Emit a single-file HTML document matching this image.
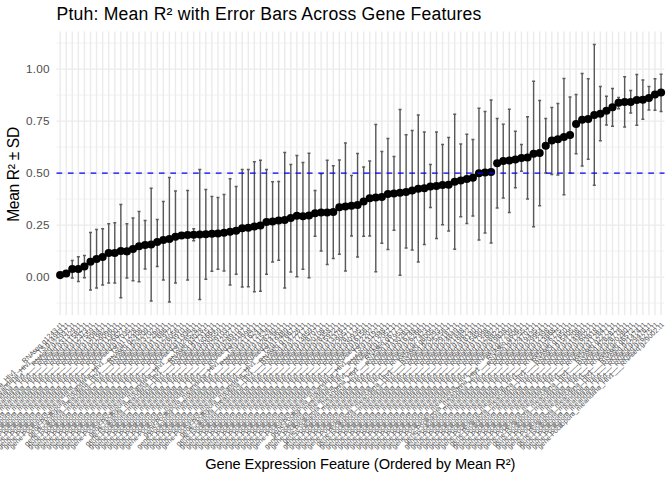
<!DOCTYPE html>
<html><head><meta charset="utf-8"><title>Ptuh: Mean R² with Error Bars</title>
<style>
html,body{margin:0;padding:0;background:#fff;}
body{width:672px;height:480px;overflow:hidden;font-family:"Liberation Sans",sans-serif;}
svg text{font-family:"Liberation Sans",sans-serif;}
</style></head><body>
<svg width="672" height="480" viewBox="0 0 672 480" style="display:block">
<rect width="672" height="480" fill="#fff"/>
<g><path d="M56.5 303.10H664.5" stroke="#ebebeb" stroke-width="0.71"/><path d="M56.5 251.10H664.5" stroke="#ebebeb" stroke-width="0.71"/><path d="M56.5 199.10H664.5" stroke="#ebebeb" stroke-width="0.71"/><path d="M56.5 147.10H664.5" stroke="#ebebeb" stroke-width="0.71"/><path d="M56.5 95.10H664.5" stroke="#ebebeb" stroke-width="0.71"/><path d="M56.5 43.10H664.5" stroke="#ebebeb" stroke-width="0.71"/><path d="M56.5 277.10H664.5" stroke="#ebebeb" stroke-width="1.42"/><path d="M56.5 225.10H664.5" stroke="#ebebeb" stroke-width="1.42"/><path d="M56.5 173.10H664.5" stroke="#ebebeb" stroke-width="1.42"/><path d="M56.5 121.10H664.5" stroke="#ebebeb" stroke-width="1.42"/><path d="M56.5 69.10H664.5" stroke="#ebebeb" stroke-width="1.42"/><path d="M60.14 31.5V315.2M66.21 31.5V315.2M72.28 31.5V315.2M78.35 31.5V315.2M84.42 31.5V315.2M90.49 31.5V315.2M96.56 31.5V315.2M102.63 31.5V315.2M108.70 31.5V315.2M114.77 31.5V315.2M120.84 31.5V315.2M126.91 31.5V315.2M132.98 31.5V315.2M139.05 31.5V315.2M145.12 31.5V315.2M151.19 31.5V315.2M157.26 31.5V315.2M163.33 31.5V315.2M169.40 31.5V315.2M175.47 31.5V315.2M181.54 31.5V315.2M187.61 31.5V315.2M193.68 31.5V315.2M199.75 31.5V315.2M205.82 31.5V315.2M211.89 31.5V315.2M217.96 31.5V315.2M224.03 31.5V315.2M230.10 31.5V315.2M236.17 31.5V315.2M242.24 31.5V315.2M248.31 31.5V315.2M254.38 31.5V315.2M260.45 31.5V315.2M266.52 31.5V315.2M272.59 31.5V315.2M278.66 31.5V315.2M284.73 31.5V315.2M290.80 31.5V315.2M296.87 31.5V315.2M302.94 31.5V315.2M309.01 31.5V315.2M315.08 31.5V315.2M321.15 31.5V315.2M327.22 31.5V315.2M333.29 31.5V315.2M339.36 31.5V315.2M345.43 31.5V315.2M351.50 31.5V315.2M357.57 31.5V315.2M363.64 31.5V315.2M369.71 31.5V315.2M375.78 31.5V315.2M381.85 31.5V315.2M387.92 31.5V315.2M393.99 31.5V315.2M400.06 31.5V315.2M406.13 31.5V315.2M412.20 31.5V315.2M418.27 31.5V315.2M424.34 31.5V315.2M430.41 31.5V315.2M436.48 31.5V315.2M442.55 31.5V315.2M448.62 31.5V315.2M454.69 31.5V315.2M460.76 31.5V315.2M466.83 31.5V315.2M472.90 31.5V315.2M478.97 31.5V315.2M485.04 31.5V315.2M491.11 31.5V315.2M497.18 31.5V315.2M503.25 31.5V315.2M509.32 31.5V315.2M515.39 31.5V315.2M521.46 31.5V315.2M527.53 31.5V315.2M533.60 31.5V315.2M539.67 31.5V315.2M545.74 31.5V315.2M551.81 31.5V315.2M557.88 31.5V315.2M563.95 31.5V315.2M570.02 31.5V315.2M576.09 31.5V315.2M582.16 31.5V315.2M588.23 31.5V315.2M594.30 31.5V315.2M600.37 31.5V315.2M606.44 31.5V315.2M612.51 31.5V315.2M618.58 31.5V315.2M624.65 31.5V315.2M630.72 31.5V315.2M636.79 31.5V315.2M642.86 31.5V315.2M648.93 31.5V315.2M655.00 31.5V315.2M661.07 31.5V315.2" stroke="#ebebeb" stroke-width="1.42" fill="none"/></g>
<path d="M70.78 260.50H73.78M70.78 278.00H73.78M72.28 260.50V278.00M76.85 256.75H79.85M76.85 281.50H79.85M78.35 256.75V281.50M82.92 255.50H85.92M82.92 277.75H85.92M84.42 255.50V277.75M88.99 232.50H91.99M88.99 290.00H91.99M90.49 232.50V290.00M95.06 229.50H98.06M95.06 288.00H98.06M96.56 229.50V288.00M101.13 228.75H104.13M101.13 285.00H104.13M102.63 228.75V285.00M107.20 223.75H110.20M107.20 283.00H110.20M108.70 223.75V283.00M113.27 222.75H116.27M113.27 283.00H116.27M114.77 222.75V283.00M119.34 204.50H122.34M119.34 297.75H122.34M120.84 204.50V297.75M125.41 223.75H128.41M125.41 278.00H128.41M126.91 223.75V278.00M131.48 218.00H134.48M131.48 280.75H134.48M132.98 218.00V280.75M137.55 211.50H140.55M137.55 281.75H140.55M139.05 211.50V281.75M143.62 220.50H146.62M143.62 269.00H146.62M145.12 220.50V269.00M149.69 188.25H152.69M149.69 301.00H152.69M151.19 188.25V301.00M155.76 219.50H158.76M155.76 266.50H158.76M157.26 219.50V266.50M161.83 201.50H164.83M161.83 280.00H164.83M163.33 201.50V280.00M167.90 177.50H170.90M167.90 302.00H170.90M169.40 177.50V302.00M173.97 191.00H176.97M173.97 283.00H176.97M175.47 191.00V283.00M186.11 190.50H189.11M186.11 280.00H189.11M187.61 190.50V280.00M192.18 228.75H195.18M192.18 240.75H195.18M193.68 228.75V240.75M198.25 169.50H201.25M198.25 299.50H201.25M199.75 169.50V299.50M204.32 189.50H207.32M204.32 279.25H207.32M205.82 189.50V279.25M210.39 196.50H213.39M210.39 271.25H213.39M211.89 196.50V271.25M216.46 197.50H219.46M216.46 269.25H219.46M217.96 197.50V269.25M222.53 194.50H225.53M222.53 271.00H225.53M224.03 194.50V271.00M228.60 178.75H231.60M228.60 285.00H231.60M230.10 178.75V285.00M234.67 186.50H237.67M234.67 274.25H237.67M236.17 186.50V274.25M240.74 169.50H243.74M240.74 287.00H243.74M242.24 169.50V287.00M246.81 169.50H249.81M246.81 286.75H249.81M248.31 169.50V286.75M252.88 161.75H255.88M252.88 291.75H255.88M254.38 161.75V291.75M258.95 160.25H261.95M258.95 291.25H261.95M260.45 160.25V291.25M265.02 169.50H268.02M265.02 274.25H268.02M266.52 169.50V274.25M271.09 181.75H274.09M271.09 262.00H274.09M272.59 181.75V262.00M277.16 181.50H280.16M277.16 260.25H280.16M278.66 181.50V260.25M283.23 152.50H286.23M283.23 288.00H286.23M284.73 152.50V288.00M289.30 164.50H292.30M289.30 272.00H292.30M290.80 164.50V272.00M295.37 155.50H298.37M295.37 276.75H298.37M296.87 155.50V276.75M301.44 162.50H304.44M301.44 269.25H304.44M302.94 162.50V269.25M307.51 153.25H310.51M307.51 277.75H310.51M309.01 153.25V277.75M313.58 190.50H316.58M313.58 236.25H316.58M315.08 190.50V236.25M319.65 173.75H322.65M319.65 251.00H322.65M321.15 173.75V251.00M325.72 160.25H328.72M325.72 264.50H328.72M327.22 160.25V264.50M331.79 165.75H334.79M331.79 258.50H334.79M333.29 165.75V258.50M337.86 160.00H340.86M337.86 254.25H340.86M339.36 160.00V254.25M343.93 143.00H346.93M343.93 271.00H346.93M345.43 143.00V271.00M350.00 175.50H353.00M350.00 236.00H353.00M351.50 175.50V236.00M356.07 153.50H359.07M356.07 257.00H359.07M357.57 153.50V257.00M362.14 167.00H365.14M362.14 236.25H365.14M363.64 167.00V236.25M368.21 161.00H371.21M368.21 236.00H371.21M369.71 161.00V236.00M374.28 124.50H377.28M374.28 271.75H377.28M375.78 124.50V271.75M380.35 151.50H383.35M380.35 243.25H383.35M381.85 151.50V243.25M386.42 138.50H389.42M386.42 249.50H389.42M387.92 138.50V249.50M392.49 156.50H395.49M392.49 230.25H395.49M393.99 156.50V230.25M398.56 109.50H401.56M398.56 275.25H401.56M400.06 109.50V275.25M404.63 134.75H407.63M404.63 248.00H407.63M406.13 134.75V248.00M410.70 130.50H413.70M410.70 250.00H413.70M412.20 130.50V250.00M416.77 115.00H419.77M416.77 262.00H419.77M418.27 115.00V262.00M422.84 132.00H425.84M422.84 244.50H425.84M424.34 132.00V244.50M428.91 164.50H431.91M428.91 207.50H431.91M430.41 164.50V207.50M434.98 132.00H437.98M434.98 238.50H437.98M436.48 132.00V238.50M441.05 144.50H444.05M441.05 224.75H444.05M442.55 144.50V224.75M447.12 137.50H450.12M447.12 231.00H450.12M448.62 137.50V231.00M453.19 114.25H456.19M453.19 249.25H456.19M454.69 114.25V249.25M459.26 144.00H462.26M459.26 216.75H462.26M460.76 144.00V216.75M465.33 134.25H468.33M465.33 223.50H468.33M466.83 134.25V223.50M471.40 139.50H474.40M471.40 216.00H474.40M472.90 139.50V216.00M477.47 108.25H480.47M477.47 240.00H480.47M478.97 108.25V240.00M483.54 111.50H486.54M483.54 233.00H486.54M485.04 111.50V233.00M489.61 100.00H492.61M489.61 243.00H492.61M491.11 100.00V243.00M495.68 118.50H498.68M495.68 208.00H498.68M497.18 118.50V208.00M501.75 124.25H504.75M501.75 198.00H504.75M503.25 124.25V198.00M507.82 109.25H510.82M507.82 212.50H510.82M509.32 109.25V212.50M513.89 131.25H516.89M513.89 187.75H516.89M515.39 131.25V187.75M519.96 144.50H522.96M519.96 171.25H522.96M521.46 144.50V171.25M526.03 116.75H529.03M526.03 199.00H529.03M527.53 116.75V199.00M532.10 81.25H535.10M532.10 226.75H535.10M533.60 81.25V226.75M538.17 100.50H541.17M538.17 205.75H541.17M539.67 100.50V205.75M544.24 118.50H547.24M544.24 173.00H547.24M545.74 118.50V173.00M550.31 107.50H553.31M550.31 174.50H553.31M551.81 107.50V174.50M556.38 103.50H559.38M556.38 175.00H559.38M557.88 103.50V175.00M562.45 78.50H565.45M562.45 194.75H565.45M563.95 78.50V194.75M568.52 97.00H571.52M568.52 173.00H571.52M570.02 97.00V173.00M574.59 94.50H577.59M574.59 153.75H577.59M576.09 94.50V153.75M580.66 73.50H583.66M580.66 166.00H583.66M582.16 73.50V166.00M586.73 78.75H589.73M586.73 159.25H589.73M588.23 78.75V159.25M592.80 44.50H595.80M592.80 185.25H595.80M594.30 44.50V185.25M598.87 86.50H601.87M598.87 140.75H601.87M600.37 86.50V140.75M604.94 96.25H607.94M604.94 125.00H607.94M606.44 96.25V125.00M611.01 88.50H614.01M611.01 126.25H614.01M612.51 88.50V126.25M617.08 97.50H620.08M617.08 108.75H620.08M618.58 97.50V108.75M623.15 76.75H626.15M623.15 127.00H626.15M624.65 76.75V127.00M629.22 90.50H632.22M629.22 113.00H632.22M630.72 90.50V113.00M635.29 74.50H638.29M635.29 125.25H638.29M636.79 74.50V125.25M641.36 80.00H644.36M641.36 119.25H644.36M642.86 80.00V119.25M647.43 86.50H650.43M647.43 110.00H650.43M648.93 86.50V110.00M653.50 78.75H656.50M653.50 110.25H656.50M655.00 78.75V110.25M659.57 74.25H662.57M659.57 111.50H662.57M661.07 74.25V111.50" stroke="#000" stroke-opacity="0.62" stroke-width="1.42" fill="none"/>
<g fill="#000"><circle cx="60.14" cy="275.10" r="4.05"/><circle cx="66.21" cy="273.50" r="4.05"/><circle cx="72.28" cy="269.00" r="4.05"/><circle cx="78.35" cy="269.00" r="4.05"/><circle cx="84.42" cy="266.50" r="4.05"/><circle cx="90.49" cy="261.75" r="4.05"/><circle cx="96.56" cy="259.00" r="4.05"/><circle cx="102.63" cy="257.00" r="4.05"/><circle cx="108.70" cy="253.00" r="4.05"/><circle cx="114.77" cy="253.00" r="4.05"/><circle cx="120.84" cy="251.00" r="4.05"/><circle cx="126.91" cy="251.40" r="4.05"/><circle cx="132.98" cy="249.00" r="4.05"/><circle cx="139.05" cy="246.25" r="4.05"/><circle cx="145.12" cy="245.00" r="4.05"/><circle cx="151.19" cy="244.50" r="4.05"/><circle cx="157.26" cy="242.00" r="4.05"/><circle cx="163.33" cy="240.00" r="4.05"/><circle cx="169.40" cy="239.00" r="4.05"/><circle cx="175.47" cy="236.75" r="4.05"/><circle cx="181.54" cy="235.50" r="4.05"/><circle cx="187.61" cy="235.00" r="4.05"/><circle cx="193.68" cy="234.75" r="4.05"/><circle cx="199.75" cy="234.50" r="4.05"/><circle cx="205.82" cy="234.25" r="4.05"/><circle cx="211.89" cy="233.75" r="4.05"/><circle cx="217.96" cy="233.50" r="4.05"/><circle cx="224.03" cy="232.75" r="4.05"/><circle cx="230.10" cy="231.75" r="4.05"/><circle cx="236.17" cy="230.75" r="4.05"/><circle cx="242.24" cy="228.25" r="4.05"/><circle cx="248.31" cy="227.75" r="4.05"/><circle cx="254.38" cy="226.50" r="4.05"/><circle cx="260.45" cy="225.50" r="4.05"/><circle cx="266.52" cy="222.00" r="4.05"/><circle cx="272.59" cy="221.50" r="4.05"/><circle cx="278.66" cy="220.50" r="4.05"/><circle cx="284.73" cy="220.00" r="4.05"/><circle cx="290.80" cy="218.00" r="4.05"/><circle cx="296.87" cy="215.75" r="4.05"/><circle cx="302.94" cy="216.25" r="4.05"/><circle cx="309.01" cy="215.50" r="4.05"/><circle cx="315.08" cy="213.25" r="4.05"/><circle cx="321.15" cy="212.50" r="4.05"/><circle cx="327.22" cy="212.50" r="4.05"/><circle cx="333.29" cy="212.00" r="4.05"/><circle cx="339.36" cy="207.25" r="4.05"/><circle cx="345.43" cy="206.50" r="4.05"/><circle cx="351.50" cy="205.75" r="4.05"/><circle cx="357.57" cy="205.00" r="4.05"/><circle cx="363.64" cy="201.50" r="4.05"/><circle cx="369.71" cy="198.25" r="4.05"/><circle cx="375.78" cy="197.50" r="4.05"/><circle cx="381.85" cy="197.00" r="4.05"/><circle cx="387.92" cy="194.00" r="4.05"/><circle cx="393.99" cy="193.50" r="4.05"/><circle cx="400.06" cy="192.75" r="4.05"/><circle cx="406.13" cy="192.00" r="4.05"/><circle cx="412.20" cy="190.50" r="4.05"/><circle cx="418.27" cy="188.75" r="4.05"/><circle cx="424.34" cy="188.25" r="4.05"/><circle cx="430.41" cy="186.50" r="4.05"/><circle cx="436.48" cy="186.00" r="4.05"/><circle cx="442.55" cy="185.00" r="4.05"/><circle cx="448.62" cy="184.75" r="4.05"/><circle cx="454.69" cy="181.75" r="4.05"/><circle cx="460.76" cy="180.50" r="4.05"/><circle cx="466.83" cy="179.00" r="4.05"/><circle cx="472.90" cy="177.75" r="4.05"/><circle cx="478.97" cy="173.25" r="4.05"/><circle cx="485.04" cy="172.50" r="4.05"/><circle cx="491.11" cy="172.00" r="4.05"/><circle cx="497.18" cy="163.25" r="4.05"/><circle cx="503.25" cy="161.00" r="4.05"/><circle cx="509.32" cy="160.50" r="4.05"/><circle cx="515.39" cy="159.50" r="4.05"/><circle cx="521.46" cy="158.00" r="4.05"/><circle cx="527.53" cy="157.50" r="4.05"/><circle cx="533.60" cy="153.75" r="4.05"/><circle cx="539.67" cy="153.00" r="4.05"/><circle cx="545.74" cy="145.75" r="4.05"/><circle cx="551.81" cy="140.50" r="4.05"/><circle cx="557.88" cy="139.25" r="4.05"/><circle cx="563.95" cy="137.00" r="4.05"/><circle cx="570.02" cy="135.00" r="4.05"/><circle cx="576.09" cy="124.00" r="4.05"/><circle cx="582.16" cy="119.75" r="4.05"/><circle cx="588.23" cy="119.00" r="4.05"/><circle cx="594.30" cy="115.00" r="4.05"/><circle cx="600.37" cy="113.75" r="4.05"/><circle cx="606.44" cy="110.75" r="4.05"/><circle cx="612.51" cy="107.25" r="4.05"/><circle cx="618.58" cy="102.75" r="4.05"/><circle cx="624.65" cy="102.00" r="4.05"/><circle cx="630.72" cy="102.00" r="4.05"/><circle cx="636.79" cy="100.00" r="4.05"/><circle cx="642.86" cy="99.75" r="4.05"/><circle cx="648.93" cy="98.00" r="4.05"/><circle cx="655.00" cy="94.50" r="4.05"/><circle cx="661.07" cy="92.50" r="4.05"/></g>
<path d="M56.5 173.10H664.5" stroke="#0000ff" stroke-width="1.42" stroke-dasharray="5.69 5.69" fill="none"/>
<text x="49.6" y="281.00" text-anchor="end" font-size="11.73" letter-spacing="0.2" fill="#4d4d4d">0.00</text>
<text x="49.6" y="229.00" text-anchor="end" font-size="11.73" letter-spacing="0.2" fill="#4d4d4d">0.25</text>
<text x="49.6" y="177.00" text-anchor="end" font-size="11.73" letter-spacing="0.2" fill="#4d4d4d">0.50</text>
<text x="49.6" y="125.00" text-anchor="end" font-size="11.73" letter-spacing="0.2" fill="#4d4d4d">0.75</text>
<text x="49.6" y="73.00" text-anchor="end" font-size="11.73" letter-spacing="0.2" fill="#4d4d4d">1.00</text>
<text x="56.5" y="20.1" font-size="17.6" letter-spacing="0.21" fill="#000">Ptuh: Mean R² with Error Bars Across Gene Features</text>
<text x="360.2" y="468.9" text-anchor="middle" font-size="14.67" letter-spacing="-0.1" fill="#000">Gene Expression Feature (Ordered by Mean R²)</text>
<text transform="translate(18.5 174.5) rotate(-90)" text-anchor="middle" font-size="15.6" letter-spacing="-0.33" fill="#000">Mean R² ± SD</text>
<g font-size="7" fill="#4d4d4d"><text transform="translate(60.14 321.3) rotate(-45)" x="-172 -168 -164 -160 -156 -154 -150 -146 -143 -142 -141 -140 -136 -132 -128 -126 -122 -118 -112 -108 -104 -100 -96 -94 -93 -89 -85 -81 -76 -74 -71 -67 -63 -59 -55 -50 -45 -41 -38 -34 -30 -28 -24 -20 -16 -12 -8 -6 -4" y="5.1">gene-Pocillopora_meandrina_HIv1___RNAseq.g1243.t1</text><text transform="translate(66.21 321.3) rotate(-45)" x="-159 -155 -151 -147 -143 -141 -137 -133 -130 -129 -128 -127 -123 -119 -115 -113 -109 -105 -99 -95 -91 -87 -83 -81 -80 -76 -72 -68 -63 -61 -58 -54 -50 -46 -42 -38 -34 -32 -28 -24 -20 -16 -12 -8 -6 -4" y="5.1">gene-Pocillopora_meandrina_HIv1___TS.g14943.t1</text><text transform="translate(72.28 321.3) rotate(-45)" x="-176 -172 -168 -164 -160 -158 -154 -150 -147 -146 -145 -144 -140 -136 -132 -130 -126 -122 -116 -112 -108 -104 -100 -98 -97 -93 -89 -85 -80 -78 -75 -71 -67 -63 -59 -54 -49 -45 -42 -38 -34 -32 -28 -24 -20 -16 -12 -8 -6 -4" y="5.1">gene-Pocillopora_meandrina_HIv1___RNAseq.g22937.t1</text><text transform="translate(78.35 321.3) rotate(-45)" x="-176 -172 -168 -164 -160 -158 -154 -150 -147 -146 -145 -144 -140 -136 -132 -130 -126 -122 -116 -112 -108 -104 -100 -98 -97 -93 -89 -85 -80 -78 -75 -71 -67 -63 -59 -54 -49 -45 -42 -38 -34 -32 -28 -24 -20 -16 -12 -8 -6 -4" y="5.1">gene-Pocillopora_meandrina_HIv1___RNAseq.g31329.t1</text><text transform="translate(84.42 321.3) rotate(-45)" x="-176 -172 -168 -164 -160 -158 -154 -150 -147 -146 -145 -144 -140 -136 -132 -130 -126 -122 -116 -112 -108 -104 -100 -98 -97 -93 -89 -85 -80 -78 -75 -71 -67 -63 -59 -54 -49 -45 -42 -38 -34 -32 -28 -24 -20 -16 -12 -8 -6 -4" y="5.1">gene-Pocillopora_meandrina_HIv1___RNAseq.g11582.t1</text><text transform="translate(90.49 321.3) rotate(-45)" x="-176 -172 -168 -164 -160 -158 -154 -150 -147 -146 -145 -144 -140 -136 -132 -130 -126 -122 -116 -112 -108 -104 -100 -98 -97 -93 -89 -85 -80 -78 -75 -71 -67 -63 -59 -54 -49 -45 -42 -38 -34 -32 -28 -24 -20 -16 -12 -8 -6 -4" y="5.1">gene-Pocillopora_meandrina_HIv1___RNAseq.g12373.t1</text><text transform="translate(96.56 321.3) rotate(-45)" x="-176 -172 -168 -164 -160 -158 -154 -150 -147 -146 -145 -144 -140 -136 -132 -130 -126 -122 -116 -112 -108 -104 -100 -98 -97 -93 -89 -85 -80 -78 -75 -71 -67 -63 -59 -54 -49 -45 -42 -38 -34 -32 -28 -24 -20 -16 -12 -8 -6 -4" y="5.1">gene-Pocillopora_meandrina_HIv1___RNAseq.g27559.t1</text><text transform="translate(102.63 321.3) rotate(-45)" x="-176 -172 -168 -164 -160 -158 -154 -150 -147 -146 -145 -144 -140 -136 -132 -130 -126 -122 -116 -112 -108 -104 -100 -98 -97 -93 -89 -85 -80 -78 -75 -71 -67 -63 -59 -54 -49 -45 -42 -38 -34 -32 -28 -24 -20 -16 -12 -8 -6 -4" y="5.1">gene-Pocillopora_meandrina_HIv1___RNAseq.g13084.t1</text><text transform="translate(108.70 321.3) rotate(-45)" x="-176 -172 -168 -164 -160 -158 -154 -150 -147 -146 -145 -144 -140 -136 -132 -130 -126 -122 -116 -112 -108 -104 -100 -98 -97 -93 -89 -85 -80 -78 -75 -71 -67 -63 -59 -54 -49 -45 -42 -38 -34 -32 -28 -24 -20 -16 -12 -8 -6 -4" y="5.1">gene-Pocillopora_meandrina_HIv1___RNAseq.g21982.t1</text><text transform="translate(114.77 321.3) rotate(-45)" x="-176 -172 -168 -164 -160 -158 -154 -150 -147 -146 -145 -144 -140 -136 -132 -130 -126 -122 -116 -112 -108 -104 -100 -98 -97 -93 -89 -85 -80 -78 -75 -71 -67 -63 -59 -54 -49 -45 -42 -38 -34 -32 -28 -24 -20 -16 -12 -8 -6 -4" y="5.1">gene-Pocillopora_meandrina_HIv1___RNAseq.g29096.t1</text><text transform="translate(120.84 321.3) rotate(-45)" x="-176 -172 -168 -164 -160 -158 -154 -150 -147 -146 -145 -144 -140 -136 -132 -130 -126 -122 -116 -112 -108 -104 -100 -98 -97 -93 -89 -85 -80 -78 -75 -71 -67 -63 -59 -54 -49 -45 -42 -38 -34 -32 -28 -24 -20 -16 -12 -8 -6 -4" y="5.1">gene-Pocillopora_meandrina_HIv1___RNAseq.g11900.t1</text><text transform="translate(126.91 321.3) rotate(-45)" x="-176 -172 -168 -164 -160 -158 -154 -150 -147 -146 -145 -144 -140 -136 -132 -130 -126 -122 -116 -112 -108 -104 -100 -98 -97 -93 -89 -85 -80 -78 -75 -71 -67 -63 -59 -54 -49 -45 -42 -38 -34 -32 -28 -24 -20 -16 -12 -8 -6 -4" y="5.1">gene-Pocillopora_meandrina_HIv1___RNAseq.g26627.t1</text><text transform="translate(132.98 321.3) rotate(-45)" x="-176 -172 -168 -164 -160 -158 -154 -150 -147 -146 -145 -144 -140 -136 -132 -130 -126 -122 -116 -112 -108 -104 -100 -98 -97 -93 -89 -85 -80 -78 -75 -71 -67 -63 -59 -54 -49 -45 -42 -38 -34 -32 -28 -24 -20 -16 -12 -8 -6 -4" y="5.1">gene-Pocillopora_meandrina_HIv1___RNAseq.g17035.t1</text><text transform="translate(139.05 321.3) rotate(-45)" x="-159 -155 -151 -147 -143 -141 -137 -133 -130 -129 -128 -127 -123 -119 -115 -113 -109 -105 -99 -95 -91 -87 -83 -81 -80 -76 -72 -68 -63 -61 -58 -54 -50 -46 -42 -38 -34 -32 -28 -24 -20 -16 -12 -8 -6 -4" y="5.1">gene-Pocillopora_meandrina_HIv1___TS.g11228.t1</text><text transform="translate(145.12 321.3) rotate(-45)" x="-172 -168 -164 -160 -156 -154 -150 -146 -143 -142 -141 -140 -136 -132 -128 -126 -122 -118 -112 -108 -104 -100 -96 -94 -93 -89 -85 -81 -76 -74 -71 -67 -63 -59 -55 -50 -45 -41 -38 -34 -30 -28 -24 -20 -16 -12 -8 -6 -4" y="5.1">gene-Pocillopora_meandrina_HIv1___RNAseq.g2408.t1</text><text transform="translate(151.19 321.3) rotate(-45)" x="-176 -172 -168 -164 -160 -158 -154 -150 -147 -146 -145 -144 -140 -136 -132 -130 -126 -122 -116 -112 -108 -104 -100 -98 -97 -93 -89 -85 -80 -78 -75 -71 -67 -63 -59 -54 -49 -45 -42 -38 -34 -32 -28 -24 -20 -16 -12 -8 -6 -4" y="5.1">gene-Pocillopora_meandrina_HIv1___RNAseq.g24209.t1</text><text transform="translate(157.26 321.3) rotate(-45)" x="-176 -172 -168 -164 -160 -158 -154 -150 -147 -146 -145 -144 -140 -136 -132 -130 -126 -122 -116 -112 -108 -104 -100 -98 -97 -93 -89 -85 -80 -78 -75 -71 -67 -63 -59 -54 -49 -45 -42 -38 -34 -32 -28 -24 -20 -16 -12 -8 -6 -4" y="5.1">gene-Pocillopora_meandrina_HIv1___RNAseq.g23702.t1</text><text transform="translate(163.33 321.3) rotate(-45)" x="-176 -172 -168 -164 -160 -158 -154 -150 -147 -146 -145 -144 -140 -136 -132 -130 -126 -122 -116 -112 -108 -104 -100 -98 -97 -93 -89 -85 -80 -78 -75 -71 -67 -63 -59 -54 -49 -45 -42 -38 -34 -32 -28 -24 -20 -16 -12 -8 -6 -4" y="5.1">gene-Pocillopora_meandrina_HIv1___RNAseq.g12289.t1</text><text transform="translate(169.40 321.3) rotate(-45)" x="-176 -172 -168 -164 -160 -158 -154 -150 -147 -146 -145 -144 -140 -136 -132 -130 -126 -122 -116 -112 -108 -104 -100 -98 -97 -93 -89 -85 -80 -78 -75 -71 -67 -63 -59 -54 -49 -45 -42 -38 -34 -32 -28 -24 -20 -16 -12 -8 -6 -4" y="5.1">gene-Pocillopora_meandrina_HIv1___RNAseq.g17886.t1</text><text transform="translate(175.47 321.3) rotate(-45)" x="-176 -172 -168 -164 -160 -158 -154 -150 -147 -146 -145 -144 -140 -136 -132 -130 -126 -122 -116 -112 -108 -104 -100 -98 -97 -93 -89 -85 -80 -78 -75 -71 -67 -63 -59 -54 -49 -45 -42 -38 -34 -32 -28 -24 -20 -16 -12 -8 -6 -4" y="5.1">gene-Pocillopora_meandrina_HIv1___RNAseq.g12972.t1</text><text transform="translate(181.54 321.3) rotate(-45)" x="-176 -172 -168 -164 -160 -158 -154 -150 -147 -146 -145 -144 -140 -136 -132 -130 -126 -122 -116 -112 -108 -104 -100 -98 -97 -93 -89 -85 -80 -78 -75 -71 -67 -63 -59 -54 -49 -45 -42 -38 -34 -32 -28 -24 -20 -16 -12 -8 -6 -4" y="5.1">gene-Pocillopora_meandrina_HIv1___RNAseq.g28056.t1</text><text transform="translate(187.61 321.3) rotate(-45)" x="-176 -172 -168 -164 -160 -158 -154 -150 -147 -146 -145 -144 -140 -136 -132 -130 -126 -122 -116 -112 -108 -104 -100 -98 -97 -93 -89 -85 -80 -78 -75 -71 -67 -63 -59 -54 -49 -45 -42 -38 -34 -32 -28 -24 -20 -16 -12 -8 -6 -4" y="5.1">gene-Pocillopora_meandrina_HIv1___RNAseq.g23910.t1</text><text transform="translate(193.68 321.3) rotate(-45)" x="-176 -172 -168 -164 -160 -158 -154 -150 -147 -146 -145 -144 -140 -136 -132 -130 -126 -122 -116 -112 -108 -104 -100 -98 -97 -93 -89 -85 -80 -78 -75 -71 -67 -63 -59 -54 -49 -45 -42 -38 -34 -32 -28 -24 -20 -16 -12 -8 -6 -4" y="5.1">gene-Pocillopora_meandrina_HIv1___RNAseq.g11936.t1</text><text transform="translate(199.75 321.3) rotate(-45)" x="-159 -155 -151 -147 -143 -141 -137 -133 -130 -129 -128 -127 -123 -119 -115 -113 -109 -105 -99 -95 -91 -87 -83 -81 -80 -76 -72 -68 -63 -61 -58 -54 -50 -46 -42 -38 -34 -32 -28 -24 -20 -16 -12 -8 -6 -4" y="5.1">gene-Pocillopora_meandrina_HIv1___TS.g28528.t1</text><text transform="translate(205.82 321.3) rotate(-45)" x="-172 -168 -164 -160 -156 -154 -150 -146 -143 -142 -141 -140 -136 -132 -128 -126 -122 -118 -112 -108 -104 -100 -96 -94 -93 -89 -85 -81 -76 -74 -71 -67 -63 -59 -55 -50 -45 -41 -38 -34 -30 -28 -24 -20 -16 -12 -8 -6 -4" y="5.1">gene-Pocillopora_meandrina_HIv1___RNAseq.g3028.t1</text><text transform="translate(211.89 321.3) rotate(-45)" x="-176 -172 -168 -164 -160 -158 -154 -150 -147 -146 -145 -144 -140 -136 -132 -130 -126 -122 -116 -112 -108 -104 -100 -98 -97 -93 -89 -85 -80 -78 -75 -71 -67 -63 -59 -54 -49 -45 -42 -38 -34 -32 -28 -24 -20 -16 -12 -8 -6 -4" y="5.1">gene-Pocillopora_meandrina_HIv1___RNAseq.g17315.t1</text><text transform="translate(217.96 321.3) rotate(-45)" x="-176 -172 -168 -164 -160 -158 -154 -150 -147 -146 -145 -144 -140 -136 -132 -130 -126 -122 -116 -112 -108 -104 -100 -98 -97 -93 -89 -85 -80 -78 -75 -71 -67 -63 -59 -54 -49 -45 -42 -38 -34 -32 -28 -24 -20 -16 -12 -8 -6 -4" y="5.1">gene-Pocillopora_meandrina_HIv1___RNAseq.g30664.t1</text><text transform="translate(224.03 321.3) rotate(-45)" x="-176 -172 -168 -164 -160 -158 -154 -150 -147 -146 -145 -144 -140 -136 -132 -130 -126 -122 -116 -112 -108 -104 -100 -98 -97 -93 -89 -85 -80 -78 -75 -71 -67 -63 -59 -54 -49 -45 -42 -38 -34 -32 -28 -24 -20 -16 -12 -8 -6 -4" y="5.1">gene-Pocillopora_meandrina_HIv1___RNAseq.g30559.t1</text><text transform="translate(230.10 321.3) rotate(-45)" x="-176 -172 -168 -164 -160 -158 -154 -150 -147 -146 -145 -144 -140 -136 -132 -130 -126 -122 -116 -112 -108 -104 -100 -98 -97 -93 -89 -85 -80 -78 -75 -71 -67 -63 -59 -54 -49 -45 -42 -38 -34 -32 -28 -24 -20 -16 -12 -8 -6 -4" y="5.1">gene-Pocillopora_meandrina_HIv1___RNAseq.g29103.t1</text><text transform="translate(236.17 321.3) rotate(-45)" x="-176 -172 -168 -164 -160 -158 -154 -150 -147 -146 -145 -144 -140 -136 -132 -130 -126 -122 -116 -112 -108 -104 -100 -98 -97 -93 -89 -85 -80 -78 -75 -71 -67 -63 -59 -54 -49 -45 -42 -38 -34 -32 -28 -24 -20 -16 -12 -8 -6 -4" y="5.1">gene-Pocillopora_meandrina_HIv1___RNAseq.g12027.t1</text><text transform="translate(242.24 321.3) rotate(-45)" x="-176 -172 -168 -164 -160 -158 -154 -150 -147 -146 -145 -144 -140 -136 -132 -130 -126 -122 -116 -112 -108 -104 -100 -98 -97 -93 -89 -85 -80 -78 -75 -71 -67 -63 -59 -54 -49 -45 -42 -38 -34 -32 -28 -24 -20 -16 -12 -8 -6 -4" y="5.1">gene-Pocillopora_meandrina_HIv1___RNAseq.g28910.t1</text><text transform="translate(248.31 321.3) rotate(-45)" x="-176 -172 -168 -164 -160 -158 -154 -150 -147 -146 -145 -144 -140 -136 -132 -130 -126 -122 -116 -112 -108 -104 -100 -98 -97 -93 -89 -85 -80 -78 -75 -71 -67 -63 -59 -54 -49 -45 -42 -38 -34 -32 -28 -24 -20 -16 -12 -8 -6 -4" y="5.1">gene-Pocillopora_meandrina_HIv1___RNAseq.g29187.t1</text><text transform="translate(254.38 321.3) rotate(-45)" x="-159 -155 -151 -147 -143 -141 -137 -133 -130 -129 -128 -127 -123 -119 -115 -113 -109 -105 -99 -95 -91 -87 -83 -81 -80 -76 -72 -68 -63 -61 -58 -54 -50 -46 -42 -38 -34 -32 -28 -24 -20 -16 -12 -8 -6 -4" y="5.1">gene-Pocillopora_meandrina_HIv1___TS.g22998.t1</text><text transform="translate(260.45 321.3) rotate(-45)" x="-176 -172 -168 -164 -160 -158 -154 -150 -147 -146 -145 -144 -140 -136 -132 -130 -126 -122 -116 -112 -108 -104 -100 -98 -97 -93 -89 -85 -80 -78 -75 -71 -67 -63 -59 -54 -49 -45 -42 -38 -34 -32 -28 -24 -20 -16 -12 -8 -6 -4" y="5.1">gene-Pocillopora_meandrina_HIv1___RNAseq.g11624.t1</text><text transform="translate(266.52 321.3) rotate(-45)" x="-176 -172 -168 -164 -160 -158 -154 -150 -147 -146 -145 -144 -140 -136 -132 -130 -126 -122 -116 -112 -108 -104 -100 -98 -97 -93 -89 -85 -80 -78 -75 -71 -67 -63 -59 -54 -49 -45 -42 -38 -34 -32 -28 -24 -20 -16 -12 -8 -6 -4" y="5.1">gene-Pocillopora_meandrina_HIv1___RNAseq.g17244.t1</text><text transform="translate(272.59 321.3) rotate(-45)" x="-176 -172 -168 -164 -160 -158 -154 -150 -147 -146 -145 -144 -140 -136 -132 -130 -126 -122 -116 -112 -108 -104 -100 -98 -97 -93 -89 -85 -80 -78 -75 -71 -67 -63 -59 -54 -49 -45 -42 -38 -34 -32 -28 -24 -20 -16 -12 -8 -6 -4" y="5.1">gene-Pocillopora_meandrina_HIv1___RNAseq.g11526.t1</text><text transform="translate(278.66 321.3) rotate(-45)" x="-176 -172 -168 -164 -160 -158 -154 -150 -147 -146 -145 -144 -140 -136 -132 -130 -126 -122 -116 -112 -108 -104 -100 -98 -97 -93 -89 -85 -80 -78 -75 -71 -67 -63 -59 -54 -49 -45 -42 -38 -34 -32 -28 -24 -20 -16 -12 -8 -6 -4" y="5.1">gene-Pocillopora_meandrina_HIv1___RNAseq.g28240.t1</text><text transform="translate(284.73 321.3) rotate(-45)" x="-176 -172 -168 -164 -160 -158 -154 -150 -147 -146 -145 -144 -140 -136 -132 -130 -126 -122 -116 -112 -108 -104 -100 -98 -97 -93 -89 -85 -80 -78 -75 -71 -67 -63 -59 -54 -49 -45 -42 -38 -34 -32 -28 -24 -20 -16 -12 -8 -6 -4" y="5.1">gene-Pocillopora_meandrina_HIv1___RNAseq.g14363.t1</text><text transform="translate(290.80 321.3) rotate(-45)" x="-159 -155 -151 -147 -143 -141 -137 -133 -130 -129 -128 -127 -123 -119 -115 -113 -109 -105 -99 -95 -91 -87 -83 -81 -80 -76 -72 -68 -63 -61 -58 -54 -50 -46 -42 -38 -34 -32 -28 -24 -20 -16 -12 -8 -6 -4" y="5.1">gene-Pocillopora_meandrina_HIv1___TS.g19489.t1</text><text transform="translate(296.87 321.3) rotate(-45)" x="-172 -168 -164 -160 -156 -154 -150 -146 -143 -142 -141 -140 -136 -132 -128 -126 -122 -118 -112 -108 -104 -100 -96 -94 -93 -89 -85 -81 -76 -74 -71 -67 -63 -59 -55 -50 -45 -41 -38 -34 -30 -28 -24 -20 -16 -12 -8 -6 -4" y="5.1">gene-Pocillopora_meandrina_HIv1___RNAseq.g7867.t1</text><text transform="translate(302.94 321.3) rotate(-45)" x="-176 -172 -168 -164 -160 -158 -154 -150 -147 -146 -145 -144 -140 -136 -132 -130 -126 -122 -116 -112 -108 -104 -100 -98 -97 -93 -89 -85 -80 -78 -75 -71 -67 -63 -59 -54 -49 -45 -42 -38 -34 -32 -28 -24 -20 -16 -12 -8 -6 -4" y="5.1">gene-Pocillopora_meandrina_HIv1___RNAseq.g14726.t1</text><text transform="translate(309.01 321.3) rotate(-45)" x="-176 -172 -168 -164 -160 -158 -154 -150 -147 -146 -145 -144 -140 -136 -132 -130 -126 -122 -116 -112 -108 -104 -100 -98 -97 -93 -89 -85 -80 -78 -75 -71 -67 -63 -59 -54 -49 -45 -42 -38 -34 -32 -28 -24 -20 -16 -12 -8 -6 -4" y="5.1">gene-Pocillopora_meandrina_HIv1___RNAseq.g27717.t1</text><text transform="translate(315.08 321.3) rotate(-45)" x="-176 -172 -168 -164 -160 -158 -154 -150 -147 -146 -145 -144 -140 -136 -132 -130 -126 -122 -116 -112 -108 -104 -100 -98 -97 -93 -89 -85 -80 -78 -75 -71 -67 -63 -59 -54 -49 -45 -42 -38 -34 -32 -28 -24 -20 -16 -12 -8 -6 -4" y="5.1">gene-Pocillopora_meandrina_HIv1___RNAseq.g13859.t1</text><text transform="translate(321.15 321.3) rotate(-45)" x="-176 -172 -168 -164 -160 -158 -154 -150 -147 -146 -145 -144 -140 -136 -132 -130 -126 -122 -116 -112 -108 -104 -100 -98 -97 -93 -89 -85 -80 -78 -75 -71 -67 -63 -59 -54 -49 -45 -42 -38 -34 -32 -28 -24 -20 -16 -12 -8 -6 -4" y="5.1">gene-Pocillopora_meandrina_HIv1___RNAseq.g28707.t1</text><text transform="translate(327.22 321.3) rotate(-45)" x="-176 -172 -168 -164 -160 -158 -154 -150 -147 -146 -145 -144 -140 -136 -132 -130 -126 -122 -116 -112 -108 -104 -100 -98 -97 -93 -89 -85 -80 -78 -75 -71 -67 -63 -59 -54 -49 -45 -42 -38 -34 -32 -28 -24 -20 -16 -12 -8 -6 -4" y="5.1">gene-Pocillopora_meandrina_HIv1___RNAseq.g20108.t1</text><text transform="translate(333.29 321.3) rotate(-45)" x="-176 -172 -168 -164 -160 -158 -154 -150 -147 -146 -145 -144 -140 -136 -132 -130 -126 -122 -116 -112 -108 -104 -100 -98 -97 -93 -89 -85 -80 -78 -75 -71 -67 -63 -59 -54 -49 -45 -42 -38 -34 -32 -28 -24 -20 -16 -12 -8 -6 -4" y="5.1">gene-Pocillopora_meandrina_HIv1___RNAseq.g28358.t1</text><text transform="translate(339.36 321.3) rotate(-45)" x="-176 -172 -168 -164 -160 -158 -154 -150 -147 -146 -145 -144 -140 -136 -132 -130 -126 -122 -116 -112 -108 -104 -100 -98 -97 -93 -89 -85 -80 -78 -75 -71 -67 -63 -59 -54 -49 -45 -42 -38 -34 -32 -28 -24 -20 -16 -12 -8 -6 -4" y="5.1">gene-Pocillopora_meandrina_HIv1___RNAseq.g15922.t1</text><text transform="translate(345.43 321.3) rotate(-45)" x="-176 -172 -168 -164 -160 -158 -154 -150 -147 -146 -145 -144 -140 -136 -132 -130 -126 -122 -116 -112 -108 -104 -100 -98 -97 -93 -89 -85 -80 -78 -75 -71 -67 -63 -59 -54 -49 -45 -42 -38 -34 -32 -28 -24 -20 -16 -12 -8 -6 -4" y="5.1">gene-Pocillopora_meandrina_HIv1___RNAseq.g13376.t1</text><text transform="translate(351.50 321.3) rotate(-45)" x="-176 -172 -168 -164 -160 -158 -154 -150 -147 -146 -145 -144 -140 -136 -132 -130 -126 -122 -116 -112 -108 -104 -100 -98 -97 -93 -89 -85 -80 -78 -75 -71 -67 -63 -59 -54 -49 -45 -42 -38 -34 -32 -28 -24 -20 -16 -12 -8 -6 -4" y="5.1">gene-Pocillopora_meandrina_HIv1___RNAseq.g29057.t1</text><text transform="translate(357.57 321.3) rotate(-45)" x="-176 -172 -168 -164 -160 -158 -154 -150 -147 -146 -145 -144 -140 -136 -132 -130 -126 -122 -116 -112 -108 -104 -100 -98 -97 -93 -89 -85 -80 -78 -75 -71 -67 -63 -59 -54 -49 -45 -42 -38 -34 -32 -28 -24 -20 -16 -12 -8 -6 -4" y="5.1">gene-Pocillopora_meandrina_HIv1___RNAseq.g28717.t1</text><text transform="translate(363.64 321.3) rotate(-45)" x="-176 -172 -168 -164 -160 -158 -154 -150 -147 -146 -145 -144 -140 -136 -132 -130 -126 -122 -116 -112 -108 -104 -100 -98 -97 -93 -89 -85 -80 -78 -75 -71 -67 -63 -59 -54 -49 -45 -42 -38 -34 -32 -28 -24 -20 -16 -12 -8 -6 -4" y="5.1">gene-Pocillopora_meandrina_HIv1___RNAseq.g30935.t1</text><text transform="translate(369.71 321.3) rotate(-45)" x="-176 -172 -168 -164 -160 -158 -154 -150 -147 -146 -145 -144 -140 -136 -132 -130 -126 -122 -116 -112 -108 -104 -100 -98 -97 -93 -89 -85 -80 -78 -75 -71 -67 -63 -59 -54 -49 -45 -42 -38 -34 -32 -28 -24 -20 -16 -12 -8 -6 -4" y="5.1">gene-Pocillopora_meandrina_HIv1___RNAseq.g16156.t1</text><text transform="translate(375.78 321.3) rotate(-45)" x="-176 -172 -168 -164 -160 -158 -154 -150 -147 -146 -145 -144 -140 -136 -132 -130 -126 -122 -116 -112 -108 -104 -100 -98 -97 -93 -89 -85 -80 -78 -75 -71 -67 -63 -59 -54 -49 -45 -42 -38 -34 -32 -28 -24 -20 -16 -12 -8 -6 -4" y="5.1">gene-Pocillopora_meandrina_HIv1___RNAseq.g22202.t1</text><text transform="translate(381.85 321.3) rotate(-45)" x="-159 -155 -151 -147 -143 -141 -137 -133 -130 -129 -128 -127 -123 -119 -115 -113 -109 -105 -99 -95 -91 -87 -83 -81 -80 -76 -72 -68 -63 -61 -58 -54 -50 -46 -42 -38 -34 -32 -28 -24 -20 -16 -12 -8 -6 -4" y="5.1">gene-Pocillopora_meandrina_HIv1___TS.g13192.t1</text><text transform="translate(387.92 321.3) rotate(-45)" x="-176 -172 -168 -164 -160 -158 -154 -150 -147 -146 -145 -144 -140 -136 -132 -130 -126 -122 -116 -112 -108 -104 -100 -98 -97 -93 -89 -85 -80 -78 -75 -71 -67 -63 -59 -54 -49 -45 -42 -38 -34 -32 -28 -24 -20 -16 -12 -8 -6 -4" y="5.1">gene-Pocillopora_meandrina_HIv1___RNAseq.g27948.t1</text><text transform="translate(393.99 321.3) rotate(-45)" x="-176 -172 -168 -164 -160 -158 -154 -150 -147 -146 -145 -144 -140 -136 -132 -130 -126 -122 -116 -112 -108 -104 -100 -98 -97 -93 -89 -85 -80 -78 -75 -71 -67 -63 -59 -54 -49 -45 -42 -38 -34 -32 -28 -24 -20 -16 -12 -8 -6 -4" y="5.1">gene-Pocillopora_meandrina_HIv1___RNAseq.g12057.t1</text><text transform="translate(400.06 321.3) rotate(-45)" x="-168 -164 -160 -156 -152 -150 -146 -142 -139 -138 -137 -136 -132 -128 -124 -122 -118 -114 -108 -104 -100 -96 -92 -90 -89 -85 -81 -77 -72 -70 -67 -63 -59 -55 -51 -46 -41 -37 -34 -30 -26 -24 -20 -16 -12 -8 -6 -4" y="5.1">gene-Pocillopora_meandrina_HIv1___RNAseq.g677.t1</text><text transform="translate(406.13 321.3) rotate(-45)" x="-176 -172 -168 -164 -160 -158 -154 -150 -147 -146 -145 -144 -140 -136 -132 -130 -126 -122 -116 -112 -108 -104 -100 -98 -97 -93 -89 -85 -80 -78 -75 -71 -67 -63 -59 -54 -49 -45 -42 -38 -34 -32 -28 -24 -20 -16 -12 -8 -6 -4" y="5.1">gene-Pocillopora_meandrina_HIv1___RNAseq.g11953.t1</text><text transform="translate(412.20 321.3) rotate(-45)" x="-176 -172 -168 -164 -160 -158 -154 -150 -147 -146 -145 -144 -140 -136 -132 -130 -126 -122 -116 -112 -108 -104 -100 -98 -97 -93 -89 -85 -80 -78 -75 -71 -67 -63 -59 -54 -49 -45 -42 -38 -34 -32 -28 -24 -20 -16 -12 -8 -6 -4" y="5.1">gene-Pocillopora_meandrina_HIv1___RNAseq.g30283.t1</text><text transform="translate(418.27 321.3) rotate(-45)" x="-176 -172 -168 -164 -160 -158 -154 -150 -147 -146 -145 -144 -140 -136 -132 -130 -126 -122 -116 -112 -108 -104 -100 -98 -97 -93 -89 -85 -80 -78 -75 -71 -67 -63 -59 -54 -49 -45 -42 -38 -34 -32 -28 -24 -20 -16 -12 -8 -6 -4" y="5.1">gene-Pocillopora_meandrina_HIv1___RNAseq.g16748.t1</text><text transform="translate(424.34 321.3) rotate(-45)" x="-176 -172 -168 -164 -160 -158 -154 -150 -147 -146 -145 -144 -140 -136 -132 -130 -126 -122 -116 -112 -108 -104 -100 -98 -97 -93 -89 -85 -80 -78 -75 -71 -67 -63 -59 -54 -49 -45 -42 -38 -34 -32 -28 -24 -20 -16 -12 -8 -6 -4" y="5.1">gene-Pocillopora_meandrina_HIv1___RNAseq.g26266.t1</text><text transform="translate(430.41 321.3) rotate(-45)" x="-176 -172 -168 -164 -160 -158 -154 -150 -147 -146 -145 -144 -140 -136 -132 -130 -126 -122 -116 -112 -108 -104 -100 -98 -97 -93 -89 -85 -80 -78 -75 -71 -67 -63 -59 -54 -49 -45 -42 -38 -34 -32 -28 -24 -20 -16 -12 -8 -6 -4" y="5.1">gene-Pocillopora_meandrina_HIv1___RNAseq.g27423.t1</text><text transform="translate(436.48 321.3) rotate(-45)" x="-172 -168 -164 -160 -156 -154 -150 -146 -143 -142 -141 -140 -136 -132 -128 -126 -122 -118 -112 -108 -104 -100 -96 -94 -93 -89 -85 -81 -76 -74 -71 -67 -63 -59 -55 -50 -45 -41 -38 -34 -30 -28 -24 -20 -16 -12 -8 -6 -4" y="5.1">gene-Pocillopora_meandrina_HIv1___RNAseq.g8005.t1</text><text transform="translate(442.55 321.3) rotate(-45)" x="-176 -172 -168 -164 -160 -158 -154 -150 -147 -146 -145 -144 -140 -136 -132 -130 -126 -122 -116 -112 -108 -104 -100 -98 -97 -93 -89 -85 -80 -78 -75 -71 -67 -63 -59 -54 -49 -45 -42 -38 -34 -32 -28 -24 -20 -16 -12 -8 -6 -4" y="5.1">gene-Pocillopora_meandrina_HIv1___RNAseq.g20293.t1</text><text transform="translate(448.62 321.3) rotate(-45)" x="-176 -172 -168 -164 -160 -158 -154 -150 -147 -146 -145 -144 -140 -136 -132 -130 -126 -122 -116 -112 -108 -104 -100 -98 -97 -93 -89 -85 -80 -78 -75 -71 -67 -63 -59 -54 -49 -45 -42 -38 -34 -32 -28 -24 -20 -16 -12 -8 -6 -4" y="5.1">gene-Pocillopora_meandrina_HIv1___RNAseq.g25256.t1</text><text transform="translate(454.69 321.3) rotate(-45)" x="-176 -172 -168 -164 -160 -158 -154 -150 -147 -146 -145 -144 -140 -136 -132 -130 -126 -122 -116 -112 -108 -104 -100 -98 -97 -93 -89 -85 -80 -78 -75 -71 -67 -63 -59 -54 -49 -45 -42 -38 -34 -32 -28 -24 -20 -16 -12 -8 -6 -4" y="5.1">gene-Pocillopora_meandrina_HIv1___RNAseq.g29187.t1</text><text transform="translate(460.76 321.3) rotate(-45)" x="-176 -172 -168 -164 -160 -158 -154 -150 -147 -146 -145 -144 -140 -136 -132 -130 -126 -122 -116 -112 -108 -104 -100 -98 -97 -93 -89 -85 -80 -78 -75 -71 -67 -63 -59 -54 -49 -45 -42 -38 -34 -32 -28 -24 -20 -16 -12 -8 -6 -4" y="5.1">gene-Pocillopora_meandrina_HIv1___RNAseq.g24849.t1</text><text transform="translate(466.83 321.3) rotate(-45)" x="-176 -172 -168 -164 -160 -158 -154 -150 -147 -146 -145 -144 -140 -136 -132 -130 -126 -122 -116 -112 -108 -104 -100 -98 -97 -93 -89 -85 -80 -78 -75 -71 -67 -63 -59 -54 -49 -45 -42 -38 -34 -32 -28 -24 -20 -16 -12 -8 -6 -4" y="5.1">gene-Pocillopora_meandrina_HIv1___RNAseq.g21848.t1</text><text transform="translate(472.90 321.3) rotate(-45)" x="-176 -172 -168 -164 -160 -158 -154 -150 -147 -146 -145 -144 -140 -136 -132 -130 -126 -122 -116 -112 -108 -104 -100 -98 -97 -93 -89 -85 -80 -78 -75 -71 -67 -63 -59 -54 -49 -45 -42 -38 -34 -32 -28 -24 -20 -16 -12 -8 -6 -4" y="5.1">gene-Pocillopora_meandrina_HIv1___RNAseq.g19822.t1</text><text transform="translate(478.97 321.3) rotate(-45)" x="-176 -172 -168 -164 -160 -158 -154 -150 -147 -146 -145 -144 -140 -136 -132 -130 -126 -122 -116 -112 -108 -104 -100 -98 -97 -93 -89 -85 -80 -78 -75 -71 -67 -63 -59 -54 -49 -45 -42 -38 -34 -32 -28 -24 -20 -16 -12 -8 -6 -4" y="5.1">gene-Pocillopora_meandrina_HIv1___RNAseq.g18140.t1</text><text transform="translate(485.04 321.3) rotate(-45)" x="-176 -172 -168 -164 -160 -158 -154 -150 -147 -146 -145 -144 -140 -136 -132 -130 -126 -122 -116 -112 -108 -104 -100 -98 -97 -93 -89 -85 -80 -78 -75 -71 -67 -63 -59 -54 -49 -45 -42 -38 -34 -32 -28 -24 -20 -16 -12 -8 -6 -4" y="5.1">gene-Pocillopora_meandrina_HIv1___RNAseq.g15890.t1</text><text transform="translate(491.11 321.3) rotate(-45)" x="-176 -172 -168 -164 -160 -158 -154 -150 -147 -146 -145 -144 -140 -136 -132 -130 -126 -122 -116 -112 -108 -104 -100 -98 -97 -93 -89 -85 -80 -78 -75 -71 -67 -63 -59 -54 -49 -45 -42 -38 -34 -32 -28 -24 -20 -16 -12 -8 -6 -4" y="5.1">gene-Pocillopora_meandrina_HIv1___RNAseq.g17998.t1</text><text transform="translate(497.18 321.3) rotate(-45)" x="-176 -172 -168 -164 -160 -158 -154 -150 -147 -146 -145 -144 -140 -136 -132 -130 -126 -122 -116 -112 -108 -104 -100 -98 -97 -93 -89 -85 -80 -78 -75 -71 -67 -63 -59 -54 -49 -45 -42 -38 -34 -32 -28 -24 -20 -16 -12 -8 -6 -4" y="5.1">gene-Pocillopora_meandrina_HIv1___RNAseq.g12682.t1</text><text transform="translate(503.25 321.3) rotate(-45)" x="-176 -172 -168 -164 -160 -158 -154 -150 -147 -146 -145 -144 -140 -136 -132 -130 -126 -122 -116 -112 -108 -104 -100 -98 -97 -93 -89 -85 -80 -78 -75 -71 -67 -63 -59 -54 -49 -45 -42 -38 -34 -32 -28 -24 -20 -16 -12 -8 -6 -4" y="5.1">gene-Pocillopora_meandrina_HIv1___RNAseq.g28822.t1</text><text transform="translate(509.32 321.3) rotate(-45)" x="-176 -172 -168 -164 -160 -158 -154 -150 -147 -146 -145 -144 -140 -136 -132 -130 -126 -122 -116 -112 -108 -104 -100 -98 -97 -93 -89 -85 -80 -78 -75 -71 -67 -63 -59 -54 -49 -45 -42 -38 -34 -32 -28 -24 -20 -16 -12 -8 -6 -4" y="5.1">gene-Pocillopora_meandrina_HIv1___RNAseq.g19838.t1</text><text transform="translate(515.39 321.3) rotate(-45)" x="-176 -172 -168 -164 -160 -158 -154 -150 -147 -146 -145 -144 -140 -136 -132 -130 -126 -122 -116 -112 -108 -104 -100 -98 -97 -93 -89 -85 -80 -78 -75 -71 -67 -63 -59 -54 -49 -45 -42 -38 -34 -32 -28 -24 -20 -16 -12 -8 -6 -4" y="5.1">gene-Pocillopora_meandrina_HIv1___RNAseq.g27209.t1</text><text transform="translate(521.46 321.3) rotate(-45)" x="-168 -164 -160 -156 -152 -150 -146 -142 -139 -138 -137 -136 -132 -128 -124 -122 -118 -114 -108 -104 -100 -96 -92 -90 -89 -85 -81 -77 -72 -70 -67 -63 -59 -55 -51 -46 -41 -37 -34 -30 -26 -24 -20 -16 -12 -8 -6 -4" y="5.1">gene-Pocillopora_meandrina_HIv1___RNAseq.g606.t1</text><text transform="translate(527.53 321.3) rotate(-45)" x="-176 -172 -168 -164 -160 -158 -154 -150 -147 -146 -145 -144 -140 -136 -132 -130 -126 -122 -116 -112 -108 -104 -100 -98 -97 -93 -89 -85 -80 -78 -75 -71 -67 -63 -59 -54 -49 -45 -42 -38 -34 -32 -28 -24 -20 -16 -12 -8 -6 -4" y="5.1">gene-Pocillopora_meandrina_HIv1___RNAseq.g21255.t1</text><text transform="translate(533.60 321.3) rotate(-45)" x="-176 -172 -168 -164 -160 -158 -154 -150 -147 -146 -145 -144 -140 -136 -132 -130 -126 -122 -116 -112 -108 -104 -100 -98 -97 -93 -89 -85 -80 -78 -75 -71 -67 -63 -59 -54 -49 -45 -42 -38 -34 -32 -28 -24 -20 -16 -12 -8 -6 -4" y="5.1">gene-Pocillopora_meandrina_HIv1___RNAseq.g24707.t1</text><text transform="translate(539.67 321.3) rotate(-45)" x="-176 -172 -168 -164 -160 -158 -154 -150 -147 -146 -145 -144 -140 -136 -132 -130 -126 -122 -116 -112 -108 -104 -100 -98 -97 -93 -89 -85 -80 -78 -75 -71 -67 -63 -59 -54 -49 -45 -42 -38 -34 -32 -28 -24 -20 -16 -12 -8 -6 -4" y="5.1">gene-Pocillopora_meandrina_HIv1___RNAseq.g19435.t1</text><text transform="translate(545.74 321.3) rotate(-45)" x="-176 -172 -168 -164 -160 -158 -154 -150 -147 -146 -145 -144 -140 -136 -132 -130 -126 -122 -116 -112 -108 -104 -100 -98 -97 -93 -89 -85 -80 -78 -75 -71 -67 -63 -59 -54 -49 -45 -42 -38 -34 -32 -28 -24 -20 -16 -12 -8 -6 -4" y="5.1">gene-Pocillopora_meandrina_HIv1___RNAseq.g29954.t1</text><text transform="translate(551.81 321.3) rotate(-45)" x="-176 -172 -168 -164 -160 -158 -154 -150 -147 -146 -145 -144 -140 -136 -132 -130 -126 -122 -116 -112 -108 -104 -100 -98 -97 -93 -89 -85 -80 -78 -75 -71 -67 -63 -59 -54 -49 -45 -42 -38 -34 -32 -28 -24 -20 -16 -12 -8 -6 -4" y="5.1">gene-Pocillopora_meandrina_HIv1___RNAseq.g12398.t1</text><text transform="translate(557.88 321.3) rotate(-45)" x="-176 -172 -168 -164 -160 -158 -154 -150 -147 -146 -145 -144 -140 -136 -132 -130 -126 -122 -116 -112 -108 -104 -100 -98 -97 -93 -89 -85 -80 -78 -75 -71 -67 -63 -59 -54 -49 -45 -42 -38 -34 -32 -28 -24 -20 -16 -12 -8 -6 -4" y="5.1">gene-Pocillopora_meandrina_HIv1___RNAseq.g13868.t1</text><text transform="translate(563.95 321.3) rotate(-45)" x="-176 -172 -168 -164 -160 -158 -154 -150 -147 -146 -145 -144 -140 -136 -132 -130 -126 -122 -116 -112 -108 -104 -100 -98 -97 -93 -89 -85 -80 -78 -75 -71 -67 -63 -59 -54 -49 -45 -42 -38 -34 -32 -28 -24 -20 -16 -12 -8 -6 -4" y="5.1">gene-Pocillopora_meandrina_HIv1___RNAseq.g26775.t1</text><text transform="translate(570.02 321.3) rotate(-45)" x="-172 -168 -164 -160 -156 -154 -150 -146 -143 -142 -141 -140 -136 -132 -128 -126 -122 -118 -112 -108 -104 -100 -96 -94 -93 -89 -85 -81 -76 -74 -71 -67 -63 -59 -55 -50 -45 -41 -38 -34 -30 -28 -24 -20 -16 -12 -8 -6 -4" y="5.1">gene-Pocillopora_meandrina_HIv1___RNAseq.g7850.t1</text><text transform="translate(576.09 321.3) rotate(-45)" x="-176 -172 -168 -164 -160 -158 -154 -150 -147 -146 -145 -144 -140 -136 -132 -130 -126 -122 -116 -112 -108 -104 -100 -98 -97 -93 -89 -85 -80 -78 -75 -71 -67 -63 -59 -54 -49 -45 -42 -38 -34 -32 -28 -24 -20 -16 -12 -8 -6 -4" y="5.1">gene-Pocillopora_meandrina_HIv1___RNAseq.g15405.t1</text><text transform="translate(582.16 321.3) rotate(-45)" x="-176 -172 -168 -164 -160 -158 -154 -150 -147 -146 -145 -144 -140 -136 -132 -130 -126 -122 -116 -112 -108 -104 -100 -98 -97 -93 -89 -85 -80 -78 -75 -71 -67 -63 -59 -54 -49 -45 -42 -38 -34 -32 -28 -24 -20 -16 -12 -8 -6 -4" y="5.1">gene-Pocillopora_meandrina_HIv1___RNAseq.g21208.t1</text><text transform="translate(588.23 321.3) rotate(-45)" x="-176 -172 -168 -164 -160 -158 -154 -150 -147 -146 -145 -144 -140 -136 -132 -130 -126 -122 -116 -112 -108 -104 -100 -98 -97 -93 -89 -85 -80 -78 -75 -71 -67 -63 -59 -54 -49 -45 -42 -38 -34 -32 -28 -24 -20 -16 -12 -8 -6 -4" y="5.1">gene-Pocillopora_meandrina_HIv1___RNAseq.g14980.t1</text><text transform="translate(594.30 321.3) rotate(-45)" x="-176 -172 -168 -164 -160 -158 -154 -150 -147 -146 -145 -144 -140 -136 -132 -130 -126 -122 -116 -112 -108 -104 -100 -98 -97 -93 -89 -85 -80 -78 -75 -71 -67 -63 -59 -54 -49 -45 -42 -38 -34 -32 -28 -24 -20 -16 -12 -8 -6 -4" y="5.1">gene-Pocillopora_meandrina_HIv1___RNAseq.g26022.t1</text><text transform="translate(600.37 321.3) rotate(-45)" x="-176 -172 -168 -164 -160 -158 -154 -150 -147 -146 -145 -144 -140 -136 -132 -130 -126 -122 -116 -112 -108 -104 -100 -98 -97 -93 -89 -85 -80 -78 -75 -71 -67 -63 -59 -54 -49 -45 -42 -38 -34 -32 -28 -24 -20 -16 -12 -8 -6 -4" y="5.1">gene-Pocillopora_meandrina_HIv1___RNAseq.g23818.t1</text><text transform="translate(606.44 321.3) rotate(-45)" x="-176 -172 -168 -164 -160 -158 -154 -150 -147 -146 -145 -144 -140 -136 -132 -130 -126 -122 -116 -112 -108 -104 -100 -98 -97 -93 -89 -85 -80 -78 -75 -71 -67 -63 -59 -54 -49 -45 -42 -38 -34 -32 -28 -24 -20 -16 -12 -8 -6 -4" y="5.1">gene-Pocillopora_meandrina_HIv1___RNAseq.g11284.t1</text><text transform="translate(612.51 321.3) rotate(-45)" x="-172 -168 -164 -160 -156 -154 -150 -146 -143 -142 -141 -140 -136 -132 -128 -126 -122 -118 -112 -108 -104 -100 -96 -94 -93 -89 -85 -81 -76 -74 -71 -67 -63 -59 -55 -50 -45 -41 -38 -34 -30 -28 -24 -20 -16 -12 -8 -6 -4" y="5.1">gene-Pocillopora_meandrina_HIv1___RNAseq.g2271.t1</text><text transform="translate(618.58 321.3) rotate(-45)" x="-176 -172 -168 -164 -160 -158 -154 -150 -147 -146 -145 -144 -140 -136 -132 -130 -126 -122 -116 -112 -108 -104 -100 -98 -97 -93 -89 -85 -80 -78 -75 -71 -67 -63 -59 -54 -49 -45 -42 -38 -34 -32 -28 -24 -20 -16 -12 -8 -6 -4" y="5.1">gene-Pocillopora_meandrina_HIv1___RNAseq.g28287.t1</text><text transform="translate(624.65 321.3) rotate(-45)" x="-176 -172 -168 -164 -160 -158 -154 -150 -147 -146 -145 -144 -140 -136 -132 -130 -126 -122 -116 -112 -108 -104 -100 -98 -97 -93 -89 -85 -80 -78 -75 -71 -67 -63 -59 -54 -49 -45 -42 -38 -34 -32 -28 -24 -20 -16 -12 -8 -6 -4" y="5.1">gene-Pocillopora_meandrina_HIv1___RNAseq.g28776.t1</text><text transform="translate(630.72 321.3) rotate(-45)" x="-176 -172 -168 -164 -160 -158 -154 -150 -147 -146 -145 -144 -140 -136 -132 -130 -126 -122 -116 -112 -108 -104 -100 -98 -97 -93 -89 -85 -80 -78 -75 -71 -67 -63 -59 -54 -49 -45 -42 -38 -34 -32 -28 -24 -20 -16 -12 -8 -6 -4" y="5.1">gene-Pocillopora_meandrina_HIv1___RNAseq.g20280.t1</text><text transform="translate(636.79 321.3) rotate(-45)" x="-172 -168 -164 -160 -156 -154 -150 -146 -143 -142 -141 -140 -136 -132 -128 -126 -122 -118 -112 -108 -104 -100 -96 -94 -93 -89 -85 -81 -76 -74 -71 -67 -63 -59 -55 -50 -45 -41 -38 -34 -30 -28 -24 -20 -16 -12 -8 -6 -4" y="5.1">gene-Pocillopora_meandrina_HIv1___RNAseq.g6572.t1</text><text transform="translate(642.86 321.3) rotate(-45)" x="-176 -172 -168 -164 -160 -158 -154 -150 -147 -146 -145 -144 -140 -136 -132 -130 -126 -122 -116 -112 -108 -104 -100 -98 -97 -93 -89 -85 -80 -78 -75 -71 -67 -63 -59 -54 -49 -45 -42 -38 -34 -32 -28 -24 -20 -16 -12 -8 -6 -4" y="5.1">gene-Pocillopora_meandrina_HIv1___RNAseq.g21474.t1</text><text transform="translate(648.93 321.3) rotate(-45)" x="-176 -172 -168 -164 -160 -158 -154 -150 -147 -146 -145 -144 -140 -136 -132 -130 -126 -122 -116 -112 -108 -104 -100 -98 -97 -93 -89 -85 -80 -78 -75 -71 -67 -63 -59 -54 -49 -45 -42 -38 -34 -32 -28 -24 -20 -16 -12 -8 -6 -4" y="5.1">gene-Pocillopora_meandrina_HIv1___RNAseq.g29476.t1</text><text transform="translate(655.00 321.3) rotate(-45)" x="-176 -172 -168 -164 -160 -158 -154 -150 -147 -146 -145 -144 -140 -136 -132 -130 -126 -122 -116 -112 -108 -104 -100 -98 -97 -93 -89 -85 -80 -78 -75 -71 -67 -63 -59 -54 -49 -45 -42 -38 -34 -32 -28 -24 -20 -16 -12 -8 -6 -4" y="5.1">gene-Pocillopora_meandrina_HIv1___RNAseq.g26275.t1</text><text transform="translate(661.07 321.3) rotate(-45)" x="-176 -172 -168 -164 -160 -158 -154 -150 -147 -146 -145 -144 -140 -136 -132 -130 -126 -122 -116 -112 -108 -104 -100 -98 -97 -93 -89 -85 -80 -78 -75 -71 -67 -63 -59 -54 -49 -45 -42 -38 -34 -32 -28 -24 -20 -16 -12 -8 -6 -4" y="5.1">gene-Pocillopora_meandrina_HIv1___RNAseq.g29002.t1</text></g>
</svg>
</body></html>
